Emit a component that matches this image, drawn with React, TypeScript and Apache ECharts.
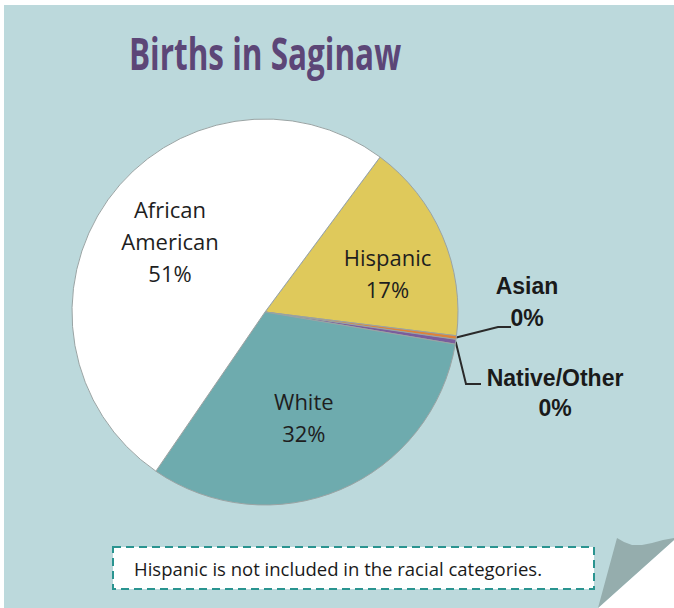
import React, { useEffect, useRef } from "react";
import * as echarts from "echarts";

const categories = ["Hispanic", "Asian", "Native/Other", "White", "African American"];
const shares = [16.8, 0.3, 0.4, 31.9, 50.6];
const shownPercent = ["17%", "0%", "0%", "32%", "51%"];
const titleText = "Births in Saginaw";
const noteText = "Hispanic is not included in the racial categories.";

const palette = ["#dfc95b", "#de8238", "#7a5c9c", "#6eabae", "#ffffff"];

export default function App() {
  const ref = useRef<HTMLDivElement>(null);
  useEffect(() => {
    if (!ref.current) return;
    const chart = echarts.init(ref.current, null, { renderer: "svg" });
    const insideFont = { fontFamily: "Open Sans", fontSize: 22, color: "#1e1e1e", lineHeight: 32 };
    const insidePad: Record<string, number[]> = {
      Hispanic: [0, 0, 0, 62],
      White: [0, 0, 0, 0],
      "African American": [0, 28, 0, 0],
    };
    const spacer = { sp: { fontSize: 1, lineHeight: 26 } };
    const data = categories.map((name, i) => {
      const small = name === "Asian" || name === "Native/Other";
      let labelText = name + "\n" + shownPercent[i];
      if (name === "African American") labelText = "African\nAmerican\n" + shownPercent[i] + "\n{sp| }";
      if (name === "White") labelText = "{sp| }\n" + name + "\n" + shownPercent[i];
      return {
        name,
        value: shares[i],
        itemStyle: { color: palette[i] },
        label: small
          ? {
              show: true,
              position: "outside",
              formatter: labelText,
              fontFamily: "Liberation Sans",
              fontWeight: "bold",
              fontSize: 23,
              lineHeight: name === "Asian" ? 32 : 30,
              color: "#1a1a1a",
              align: "center",
            }
          : {
              show: true,
              position: "inside",
              formatter: labelText,
              padding: insidePad[name],
              rich: spacer,
              ...insideFont,
            },
        labelLine: small
          ? { show: true, lineStyle: { color: "#2a2a2a", width: 2 } }
          : { show: false },
      };
    });

    chart.setOption({
      animation: false,
      backgroundColor: "transparent",
      graphic: [
        {
          type: "rect",
          z: -10,
          silent: true,
          shape: { x: 4, y: 5, width: 670, height: 603 },
          style: { fill: "#bcd9dc" },
        },
        {
          type: "polygon",
          z: -9,
          silent: true,
          shape: { points: [[674, 540], [674, 608], [598, 608]] },
          style: { fill: "#ffffff" },
        },
        {
          type: "polygon",
          z: -8,
          silent: true,
          shape: {
            points: [
              [617, 538], [624, 542], [632, 545], [642, 545], [652, 543], [663, 540], [674, 538], [674, 540], [598, 608],
            ],
          },
          style: { fill: "#95adad" },
        },
        {
          type: "text",
          z: 5,
          silent: true,
          x: 265,
          y: 52,
          scaleX: 0.7,
          style: {
            text: titleText,
            fontFamily: "Open Sans",
            fontWeight: "bold",
            fontSize: 45,
            fill: "#5c4677",
            align: "center",
            verticalAlign: "middle",
          },
        },
        {
          type: "rect",
          z: 5,
          silent: true,
          shape: { x: 113, y: 547, width: 481, height: 42 },
          style: { fill: "#ffffff", stroke: "#2a9490", lineWidth: 2, lineDash: [8, 5] },
        },
        {
          type: "text",
          z: 6,
          silent: true,
          x: 338,
          y: 568,
          style: {
            text: noteText,
            fontFamily: "Open Sans",
            fontSize: 18.5,
            fill: "#1a1a1a",
            align: "center",
            verticalAlign: "middle",
          },
        },
      ],
      series: [
        {
          type: "pie",
          center: [265, 312],
          radius: 193,
          startAngle: 53.4,
          clockwise: true,
          avoidLabelOverlap: false,
          itemStyle: { borderColor: "#9aa4a4", borderWidth: 1 },
          emphasis: { disabled: true },
          data,
          labelLayout: (params: any) => {
            const name = categories[params.dataIndex];
            const start = params.labelLinePoints ? params.labelLinePoints[0] : [456, 340];
            if (name === "Asian") {
              return {
                x: 527,
                y: 270,
                align: "center",
                verticalAlign: "top",
                labelLinePoints: [start, [498, 327], [511, 327]],
              };
            }
            if (name === "Native/Other") {
              return {
                x: 555,
                y: 363,
                align: "center",
                verticalAlign: "top",
                labelLinePoints: [start, [466, 384], [481, 384]],
              };
            }
            return {};
          },
        },
      ],
    });
    return () => chart.dispose();
  }, []);
  return (
    <div
      ref={ref}
      style={{ position: "fixed", left: 0, top: 0, width: 674, height: 608, background: "#ffffff" }}
    />
  );
}
